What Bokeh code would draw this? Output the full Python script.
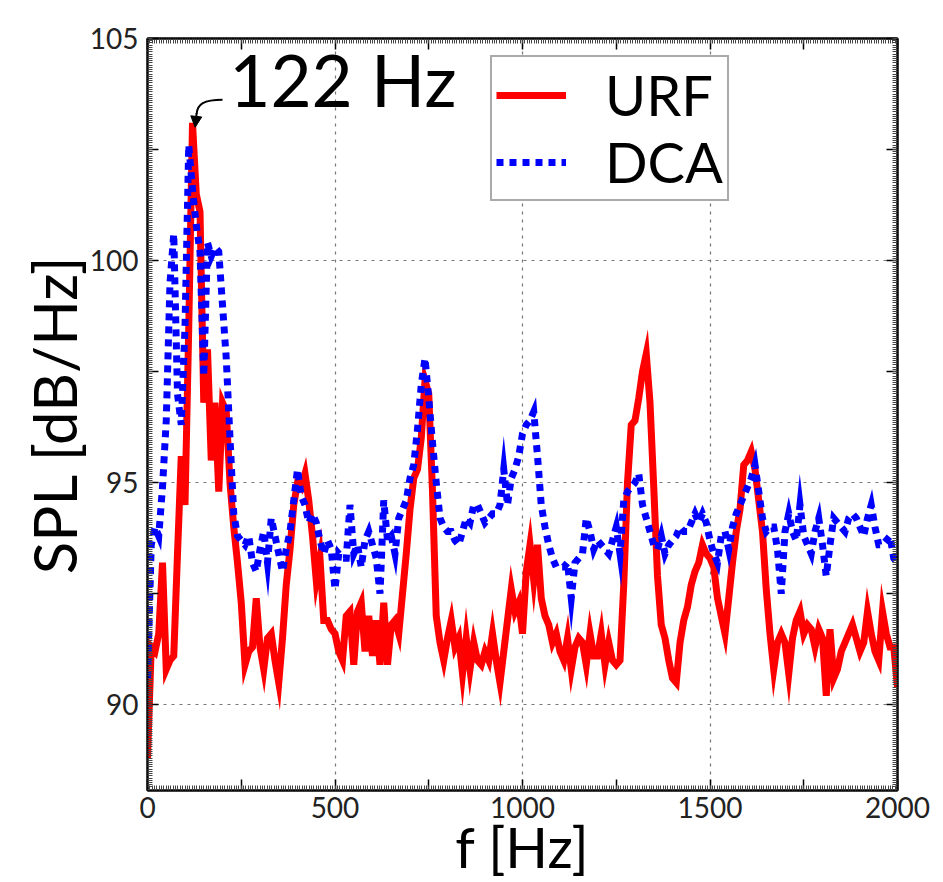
import numpy as np
from bokeh.plotting import figure
from bokeh.models import (Range1d, FixedTicker, LinearAxis, Legend, LegendItem,
                          Arrow, NormalHead, Label)
from bokeh.embed import file_html
from bokeh.resources import INLINE

# ---------------- data ----------------
freq = list(range(0, 2001, 10))

urf = [
    88.8, 91.3, 91.2, 91.6, 93.2, 90.8, 91.0, 91.1, 93.4, 95.6,      # 0-90
    94.5, 98.5, 103.1, 101.5, 101.1, 96.8, 98.0, 95.5, 96.8, 94.8,   # 100-190
    96.8, 96.6, 95.0, 94.0, 93.2, 92.3, 90.9, 91.2, 91.3, 92.4,      # 200-290
    91.3, 90.8, 91.5, 91.6, 91.0, 90.5, 91.5, 92.7, 93.5, 94.5,      # 300-390
    95.0, 94.9, 95.2, 94.6, 93.8, 92.8, 93.3, 91.9, 91.9, 91.7,      # 400-490
    91.6, 91.2, 91.0, 92.0, 92.1, 90.9, 92.1, 92.3, 91.2, 92.0,      # 500-590
    91.1, 91.9, 90.9, 92.3, 90.9, 91.8, 91.9, 91.6, 92.5, 93.4,      # 600-690
    94.4, 95.1, 95.3, 96.0, 97.3, 97.0, 94.8, 92.0, 91.4, 91.0,      # 700-790
    91.5, 91.9, 91.3, 91.5, 90.7, 91.5, 90.8, 91.4, 91.0, 90.9,      # 800-890
    91.2, 91.0, 91.6, 91.0, 90.5, 91.2, 91.9, 92.6, 92.1, 92.3,      # 900-990
    91.6, 93.0, 93.6, 92.8, 93.6, 92.4, 92.0, 91.8, 91.4, 91.6,      # 1000-1090
    91.2, 91.0, 91.5, 90.8, 91.3, 91.5, 91.4, 90.9, 91.6, 91.1,      # 1100-1190
    91.1, 91.6, 90.9, 91.4, 91.0, 90.9, 91.0, 92.7, 95.0, 96.3,      # 1200-1290
    96.4, 96.9, 97.5, 97.9, 96.8, 94.9, 92.9, 91.8, 91.5, 91.0,      # 1300-1390
    90.6, 90.5, 91.4, 91.9, 92.2, 92.7, 93.0, 93.2, 93.6, 93.4,      # 1400-1490
    93.3, 93.1, 92.4, 92.0, 91.6, 92.4, 93.2, 93.9, 94.4, 95.4,      # 1500-1590
    95.5, 95.7, 95.3, 94.6, 93.9, 92.6, 91.6, 90.8, 91.4, 91.6,      # 1600-1690
    91.4, 90.7, 91.5, 91.9, 92.1, 91.6, 91.8, 91.7, 91.3, 91.7,      # 1700-1790
    91.5, 90.2, 91.7, 90.6, 90.8, 91.2, 91.4, 91.6, 91.8, 91.5,      # 1800-1890
    91.2, 91.4, 92.1, 91.6, 91.2, 91.0, 92.1, 91.6, 91.3, 91.3,      # 1900-1990
    90.4,                                                            # 2000
]

dca = [
    90.6, 93.6, 94.0, 93.8, 94.9, 96.4, 99.5, 100.6, 97.0, 96.3,     # 0-90
    98.5, 102.6, 101.6, 100.8, 100.2, 97.4, 100.4, 100.1, 100.3, 100.2,  # 100-190
    99.0, 97.8, 96.0, 94.3, 93.8, 93.7, 93.6, 93.8, 93.2, 93.0,      # 200-290
    93.5, 93.9, 93.2, 94.2, 93.8, 93.4, 93.0, 93.5, 93.9, 94.6,      # 300-390
    95.3, 94.7, 94.5, 94.1, 94.3, 94.1, 93.7, 93.4, 93.7, 93.5,      # 400-490
    92.6, 93.4, 93.3, 93.3, 94.5, 93.4, 93.6, 93.1, 93.7, 93.9,      # 500-590
    93.6, 93.3, 92.5, 94.6, 93.7, 93.8, 93.4, 94.2, 94.4, 94.6,      # 600-690
    95.1, 95.4, 96.2, 97.2, 97.8, 96.9, 95.9, 95.0, 94.2, 94.0,      # 700-790
    93.9, 93.9, 93.7, 93.6, 93.9, 94.2, 94.1, 94.5, 94.5, 94.3,      # 800-890
    94.1, 94.2, 94.3, 94.3, 94.5, 95.3, 94.5, 95.1, 95.3, 95.6,      # 900-990
    96.1, 96.3, 96.4, 96.6, 95.6, 94.5, 94.0, 93.6, 93.3, 93.1,      # 1000-1090
    93.1, 93.1, 93.2, 92.4, 93.2, 93.3, 93.4, 94.2, 93.9, 93.5,      # 1100-1190
    93.7, 93.6, 93.5, 93.4, 93.7, 94.0, 93.4, 94.6, 94.8, 94.9,      # 1200-1290
    95.0, 95.2, 94.5, 94.2, 93.9, 93.6, 93.5, 93.8, 93.4, 93.6,      # 1300-1390
    93.7, 93.8, 94.0, 93.9, 93.9, 94.1, 94.3, 94.1, 94.3, 94.1,      # 1400-1490
    93.7, 93.4, 93.2, 93.8, 93.9, 93.5, 94.0, 94.3, 94.5, 94.7,      # 1500-1590
    94.9, 95.1, 95.4, 94.8, 94.2, 93.9, 94.0, 94.0, 93.5, 92.5,      # 1600-1690
    93.9, 94.3, 93.9, 93.7, 94.5, 93.8, 93.6, 93.4, 93.9, 94.2,      # 1700-1790
    93.6, 92.9, 93.6, 94.2, 94.1, 94.0, 93.9, 94.2, 94.3, 94.2,      # 1800-1890
    94.0, 93.8, 94.2, 94.5, 94.0, 93.6, 93.6, 93.7, 93.8, 93.3,      # 1900-1990
    93.2,                                                            # 2000
]

x_ticks = [0, 250, 500, 750, 1000, 1250, 1500, 1750, 2000]
x_labels = {0: "0", 500: "500", 1000: "1000", 1500: "1500", 2000: "2000"}
y_ticks = [90, 92.5, 95, 97.5, 100, 102.5, 105]
y_labels = {90: "90", 95: "95", 100: "100", 105: "105"}
x_grid = [500, 1000, 1500]
y_grid = [90, 95, 100]

FONT = "Lato"

# ---------------- figure ----------------
p = figure(width=943, height=882,
           x_range=Range1d(0, 2000), y_range=Range1d(88.07, 105),
           output_backend="svg", toolbar_location=None,
           min_border_left=147, min_border_right=46,
           min_border_top=38, min_border_bottom=91)

p.outline_line_color = "black"
p.outline_line_width = 2

r_urf = p.line(freq, urf, line_color="red", line_width=7, line_join="miter")
r_dca = p.line(freq, dca, line_color="blue", line_width=7, line_dash="7 6",
               line_join="miter", line_cap="butt")

# grid
p.xgrid.ticker = FixedTicker(ticks=x_grid)
p.ygrid.ticker = FixedTicker(ticks=y_grid)
for g in (p.xgrid, p.ygrid):
    g.grid_line_color = "#777777"
    g.grid_line_dash = "3 5"
    g.grid_line_width = 1.2

x_minor = list(np.arange(0, 2001, 6.25))
y_minor = list(np.arange(88.1, 105.01, 0.05))

def style_axis(ax, ticks, minor, labels, show):
    ax.ticker = FixedTicker(ticks=ticks, minor_ticks=minor)
    ax.major_label_overrides = {t: (labels.get(t, "") if show else "") for t in ticks}
    ax.major_tick_in = 11
    ax.major_tick_out = 0
    ax.minor_tick_in = 5
    ax.minor_tick_out = 0
    ax.major_tick_line_color = "black"
    ax.major_tick_line_width = 1.5
    ax.minor_tick_line_color = "#444444"
    ax.minor_tick_line_width = 1
    ax.axis_line_color = "black"
    ax.axis_line_width = 2
    ax.major_label_text_font = FONT
    ax.major_label_text_font_size = "28px" if show else "0px"
    ax.major_label_text_color = "#222222"

xa = p.xaxis[0]
ya = p.yaxis[0]
style_axis(xa, x_ticks, x_minor, x_labels, True)
style_axis(ya, y_ticks, y_minor, y_labels, True)
xa.major_label_standoff = 6
ya.major_label_standoff = 9

xa.axis_label = "f [Hz]"
ya.axis_label = "SPL [dB/Hz]"
for ax in (xa, ya):
    ax.axis_label_text_font = FONT
    ax.axis_label_text_font_style = "normal"
    ax.axis_label_text_color = "black"
xa.axis_label_text_font_size = "56px"
xa.axis_label_text_line_height = 0.6
xa.axis_label_standoff = -8
ya.axis_label_text_font_size = "60px"
ya.axis_label_standoff = -3

top = LinearAxis()
right = LinearAxis()
style_axis(top, x_ticks, x_minor, x_labels, False)
style_axis(right, y_ticks, y_minor, y_labels, False)
top.major_label_standoff = 0
right.major_label_standoff = 0
p.add_layout(top, "above")
p.add_layout(right, "right")

# ---------------- annotation ----------------
ipk = int(np.argmax(urf))
fpk, vpk = freq[ipk], urf[ipk]

p.add_layout(Label(x=fpk + 98, y=vpk + 0.98, text="122 Hz",
                   text_font=FONT, text_font_size="71px",
                   text_color="black", text_baseline="alphabetic",
                   text_align="left"))
p.bezier(x0=[fpk + 80], y0=[vpk + 0.52], x1=[fpk + 11], y1=[vpk + 0.2],
         cx0=[fpk + 30], cy0=[vpk + 0.52], cx1=[fpk + 13], cy1=[vpk + 0.42],
         line_color="black", line_width=2)
p.add_layout(Arrow(end=NormalHead(size=11, fill_color="black", line_color="black"),
                   x_start=fpk + 11, y_start=vpk + 0.22,
                   x_end=fpk + 7, y_end=vpk - 0.1,
                   line_color="black", line_width=2))

# ---------------- legend ----------------
legend = Legend(items=[LegendItem(label="URF", renderers=[r_urf]),
                       LegendItem(label="DCA", renderers=[r_dca])],
                location=(343, 589))
legend.label_text_font = FONT
legend.label_text_font_size = "56px"
legend.label_text_color = "black"
legend.glyph_width = 70
legend.glyph_height = 56
legend.label_height = 56
legend.label_standoff = 39
legend.spacing = 0
legend.padding = 4
legend.margin = 0
legend.border_line_color = "#555555"
legend.border_line_width = 2
legend.background_fill_color = "white"
legend.background_fill_alpha = 1
p.add_layout(legend)

open("out.html", "w").write(file_html(p, INLINE))
